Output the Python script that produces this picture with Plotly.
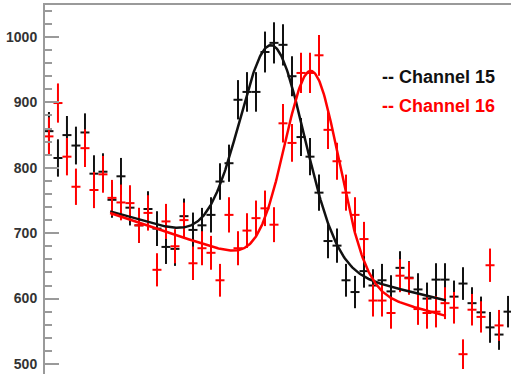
import numpy as np
import plotly.graph_objects as go

# Histogram bins (bin index) and counts for the two channels
bins = list(range(52))
channel15 = [856, 815, 850, 834, 854, 791, 794, 751, 787, 739,
             712, 737, 707, 679, 676, 726, 705, 712, 728, 779,
             807, 904, 916, 916, 977, 991, 988, 940, 847, 817,
             762, 688, 681, 628, 610, 642, 620, 628, 611, 647,
             632, 614, 600, 629, 629, 603, 623, 593, 579, 556,
             545, 580]
channel16 = [848, 899, 817, 771, 830, 766, 790, 754, 747, 746,
             712, 731, 644, 718, 680, 720, 654, 677, 670, 628,
             728, 677, 704, 723, 738, 713, 868, 838, 945, 945,
             972, 858, 810, 762, 728, 691, 597, 597, 578, 635,
             631, 584, 578, 580, 593, 586, 515, 583, 572, 651,
             559, 450]

# Fit results: gaussian peak on an exponential background
fit15 = dict(amp=323.0, mean=24.8, sigma=3.6, p0=6.6350, p1=-0.0055)
fit16 = dict(amp=316.0, mean=29.2, sigma=3.0, p0=6.6385, p1=-0.0065)
fit_range = (6.8, 44.1)


def fit_curve(p, x):
    return (p["amp"] * np.exp(-0.5 * ((x - p["mean"]) / p["sigma"]) ** 2)
            + np.exp(p["p0"] + p["p1"] * x))


def hist_trace(values, color):
    v = np.array(values, dtype=float)
    return go.Scatter(
        x=bins, y=v, mode="markers",
        marker=dict(size=1, color=color),
        error_y=dict(type="data", array=np.sqrt(v), color=color,
                     thickness=2, width=0),
        error_x=dict(type="constant", value=0.5, color=color,
                     thickness=2, width=0),
        showlegend=False, hoverinfo="skip",
    )


xf = np.linspace(fit_range[0], fit_range[1], 400)

fig = go.Figure()
fig.add_trace(hist_trace(channel15, "#111111"))
fig.add_trace(hist_trace(channel16, "#ff0000"))
fig.add_trace(go.Scatter(x=xf, y=fit_curve(fit15, xf), mode="lines",
                         line=dict(color="#111111", width=2.5),
                         showlegend=False, hoverinfo="skip"))
fig.add_trace(go.Scatter(x=xf, y=fit_curve(fit16, xf), mode="lines",
                         line=dict(color="#ff0000", width=2.5),
                         showlegend=False, hoverinfo="skip"))

axis_gray = "#9a9a9a"
fig.update_layout(
    width=511, height=374,
    margin=dict(l=45, r=0, t=5, b=0),
    paper_bgcolor="white", plot_bgcolor="white",
    xaxis=dict(range=[-0.44, 51.33], side="top", showline=True,
               linecolor=axis_gray, linewidth=2, showgrid=False,
               zeroline=False, showticklabels=False, ticks=""),
    yaxis=dict(range=[484.7, 1048.9], showline=True, linecolor=axis_gray,
               linewidth=2, showgrid=False, zeroline=False,
               ticks="inside", ticklen=14, tickwidth=1.5, tickcolor=axis_gray,
               dtick=100, tick0=0, ticklabelstandoff=3,
               tickfont=dict(family="Liberation Sans", size=14,
                             color="#333333", weight="bold"),
               minor=dict(ticks="inside", ticklen=7, dtick=20,
                          tickcolor=axis_gray, tickwidth=1.5)),
    annotations=[
        dict(xref="paper", yref="paper", x=0.719, y=0.805,
             xanchor="left", yanchor="middle", showarrow=False,
             text="-- Channel 15",
             font=dict(family="Liberation Sans", size=18,
                       color="#111111", weight="bold")),
        dict(xref="paper", yref="paper", x=0.719, y=0.726,
             xanchor="left", yanchor="middle", showarrow=False,
             text="-- Channel 16",
             font=dict(family="Liberation Sans", size=18,
                       color="#ff0000", weight="bold")),
    ],
)

fig.write_html("out.html")
